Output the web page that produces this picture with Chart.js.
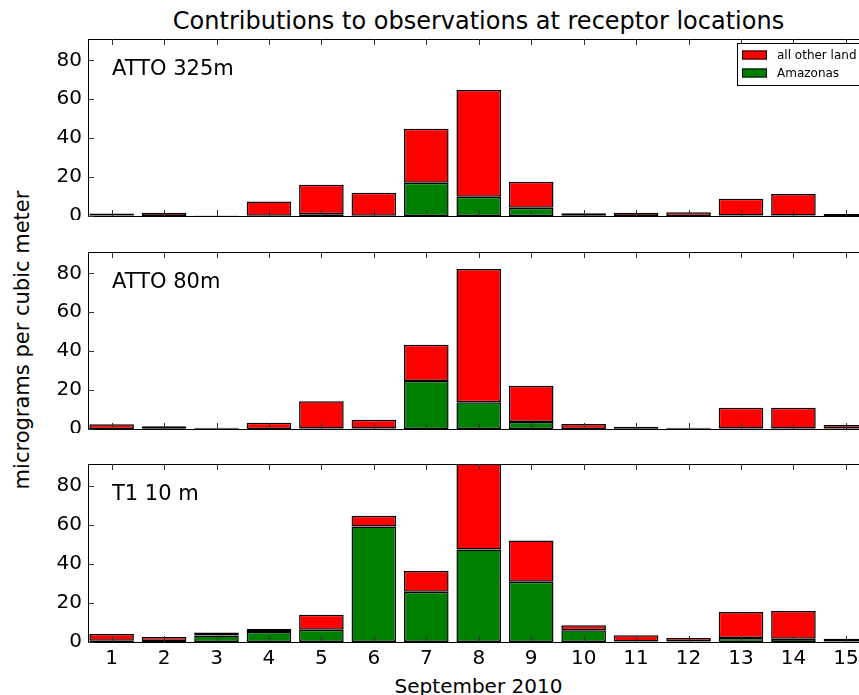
<!DOCTYPE html>
<html>
<head>
<meta charset="utf-8">
<title>Contributions to observations at receptor locations</title>
<script src="https://cdn.jsdelivr.net/npm/chart.js@4.4.1/dist/chart.umd.min.js"></script>
<style>
  html, body { margin: 0; padding: 0; background: #fff; overflow: hidden; }
  body { width: 859px; height: 695px; position: relative; font-family: "DejaVu Sans", sans-serif; color: #000; }
  .panel { position: absolute; left: 0; width: 859px; }
  .panel canvas { display: block; }
  #title { position: absolute; top: 9px; left: 88px; width: 781px; text-align: center; font-size: 24px; line-height: 24px; white-space: nowrap; }
  #xlabel { position: absolute; top: 676px; left: 88px; width: 781px; text-align: center; font-size: 20px; line-height: 20px; white-space: nowrap; }
  #ylabel { position: absolute; left: -178px; top: 328px; width: 400px; height: 24px; line-height: 24px; text-align: center; font-size: 21px; white-space: nowrap; transform: rotate(-90deg); transform-origin: 50% 50%; }
</style>
</head>
<body>
<div id="title">Contributions to observations at receptor locations</div>
<div id="ylabel">micrograms per cubic meter</div>
<div id="xlabel">September 2010</div>

<div class="panel" id="p1"><canvas id="c1"></canvas></div>
<div class="panel" id="p2"><canvas id="c2"></canvas></div>
<div class="panel" id="p3"><canvas id="c3"></canvas></div>

<script>
// Days of September 2010 (x categories and tick labels)
const days = [1, 2, 3, 4, 5, 6, 7, 8, 9, 10, 11, 12, 13, 14, 15];
const yTicks = [0, 20, 40, 60, 80];
const seriesNames = ['Amazonas', 'all other land'];
const panelNames = ['ATTO 325m', 'ATTO 80m', 'T1 10 m'];

// ATTO 325m
const amazonas325 = [0.2, 0, 0.1, 0.1, 0.9, 0.1, 17.1, 9.9, 4.3, 0.1, 0, 0, 0.2, 0.2, 0.5];
const otherLand325 = [1.1, 1.7, 0.2, 7.4, 15.2, 11.9, 27.7, 54.9, 13.3, 1.3, 1.7, 1.9, 8.7, 11.1, 0.5];

// ATTO 80m
const amazonas80 = [0, 0.1, 0.1, 0, 0.2, 0.2, 24.7, 13.7, 3.6, 0, 0.1, 0.1, 0.2, 0.2, 0.2];
const otherLand80 = [2.4, 1.3, 0.5, 3.2, 14.1, 4.6, 18.6, 68.6, 18.6, 2.6, 1.1, 0.6, 10.7, 10.7, 1.8];

// T1 10 m
const amazonasT1 = [0.6, 0.5, 3.3, 5.1, 6.3, 59.1, 25.7, 47.3, 30.8, 6.0, 0.3, 0.2, 2.1, 1.7, 0.3];
const otherLandT1 = [3.5, 2.1, 1.5, 1.6, 7.6, 5.5, 10.6, 48.7, 21.1, 2.6, 3.1, 1.9, 13.3, 14.1, 1.4];

const GREEN = '#008000';
const RED = '#ff0000';
const FONT = '"DejaVu Sans", sans-serif';

// axes frame: top spine, inward ticks, panel name, optional legend
const framePlugin = {
    id: 'frame',
    afterDatasetsDraw(chart, args, opts) {
        const { ctx, chartArea: a, scales: { x, y } } = chart;
        ctx.save();
        ctx.strokeStyle = '#000';
        ctx.lineWidth = 1;
        ctx.beginPath();
        ctx.moveTo(a.left, Math.round(a.top) + 0.5);
        ctx.lineTo(a.right, Math.round(a.top) + 0.5);
        ctx.stroke();

        ctx.strokeStyle = '#333';
        ctx.beginPath();
        x.ticks.forEach(t => {
            const px = Math.round(x.getPixelForValue(t.value)) + 0.5;
            ctx.moveTo(px, a.bottom); ctx.lineTo(px, a.bottom - 6);
            ctx.moveTo(px, a.top); ctx.lineTo(px, a.top + 6);
        });
        y.ticks.forEach(t => {
            const py = Math.round(y.getPixelForValue(t.value)) + 0.5;
            ctx.moveTo(a.left, py); ctx.lineTo(a.left + 6, py);
        });
        ctx.stroke();

        ctx.fillStyle = '#000';
        ctx.font = '21px ' + FONT;
        ctx.textBaseline = 'alphabetic';
        ctx.textAlign = 'left';
        ctx.fillText(opts.name, a.left + 24, a.top + 36);

        if (opts.legend) {
            const left = a.right - 122, top = a.top + 4;
            ctx.fillStyle = '#fff';
            ctx.fillRect(left, top, 140, 42);
            ctx.strokeStyle = '#000';
            ctx.strokeRect(left + 0.5, top + 0.5, 140, 42);
            // reverse order: top of stack first
            const items = chart.data.datasets.slice().reverse();
            items.forEach((ds, i) => {
                const cy = top + 12 + i * 18;
                ctx.fillStyle = ds.backgroundColor;
                ctx.fillRect(left + 5, cy - 4.5, 25, 9);
                ctx.strokeStyle = '#000';
                ctx.strokeRect(left + 5.5, cy - 4, 24, 8);
                ctx.fillStyle = '#000';
                ctx.font = '12px ' + FONT;
                ctx.textBaseline = 'middle';
                ctx.fillText(ds.label, left + 40, cy + 1);
            });
        }
        ctx.restore();
    }
};

function noPadding(s) {
    s.paddingTop = 0;
    s.paddingBottom = 0;
    s.paddingLeft = 0;
    s.paddingRight = 0;
}

function makePanel(canvasId, panelId, areaTop, areaHeight, bottomH, name, green, red, showX, legend) {
    const padTop = 10;
    const panel = document.getElementById(panelId);
    const canvas = document.getElementById(canvasId);
    panel.style.top = (areaTop - padTop) + 'px';
    canvas.width = 859;
    canvas.height = padTop + areaHeight + bottomH;

    const bar = {
        borderColor: '#000',
        borderWidth: 1.5,
        borderSkipped: false,
        barPercentage: 0.85,
        categoryPercentage: 1.0
    };

    return new Chart(canvas.getContext('2d'), {
        type: 'bar',
        data: {
            datasets: [
                Object.assign({ label: seriesNames[0], backgroundColor: GREEN,
                    data: days.map((d, i) => ({ x: d, y: green[i] })) }, bar),
                Object.assign({ label: seriesNames[1], backgroundColor: RED,
                    data: days.map((d, i) => ({ x: d, y: red[i] })) }, bar)
            ]
        },
        options: {
            responsive: false,
            animation: false,
            events: [],
            layout: { autoPadding: false, padding: { top: padTop, left: 0, right: 0, bottom: 0 } },
            plugins: {
                legend: { display: false },
                tooltip: { enabled: false },
                frame: { name: name, legend: legend }
            },
            scales: {
                x: {
                    type: 'linear',
                    stacked: true,
                    offset: false,
                    min: 0.55,
                    max: 15.25,
                    afterBuildTicks: s => { s.ticks = days.map(v => ({ value: v })); },
                    afterFit: s => { s.height = bottomH; noPadding(s); },
                    grid: { display: false, drawTicks: false, offset: false },
                    border: { display: true, color: '#000', width: 1 },
                    ticks: {
                        display: showX,
                        autoSkip: false,
                        maxRotation: 0,
                        padding: 5,
                        color: '#000',
                        font: { family: FONT, size: 20 }
                    }
                },
                y: {
                    stacked: true,
                    min: 0,
                    max: 91,
                    afterBuildTicks: s => { s.ticks = yTicks.map(v => ({ value: v })); },
                    afterFit: s => { s.width = 88; noPadding(s); },
                    grid: { display: false, drawTicks: false },
                    border: { display: true, color: '#000', width: 1 },
                    ticks: {
                        padding: 6,
                        color: '#000',
                        font: { family: FONT, size: 20 }
                    }
                }
            }
        },
        plugins: [framePlugin]
    });
}

document.addEventListener('DOMContentLoaded', () => {
    makePanel('c1', 'p1', 39, 177, 4, panelNames[0], amazonas325, otherLand325, false, true);
    makePanel('c2', 'p2', 252, 177, 4, panelNames[1], amazonas80, otherLand80, false, false);
    makePanel('c3', 'p3', 464, 178, 53, panelNames[2], amazonasT1, otherLandT1, true, false);
});
</script>
</body>
</html>
